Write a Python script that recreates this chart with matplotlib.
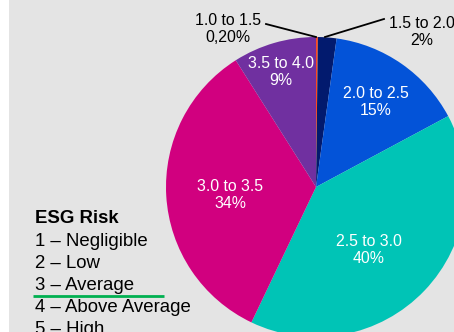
import matplotlib
matplotlib.use("Agg")
import matplotlib.pyplot as plt
from matplotlib.patches import Rectangle

plt.rcParams['font.family'] = ['Liberation Sans', 'DejaVu Sans']

# ---- data ----
categories = ["1.0 to 1.5", "1.5 to 2.0", "2.0 to 2.5", "2.5 to 3.0", "3.0 to 3.5", "3.5 to 4.0"]
values = [0.2, 2, 15, 40, 34, 9]
pct_labels = ["0,20%", "2%", "15%", "40%", "34%", "9%"]
colors = ["#ff4a1c", "#021a6e", "#0353d8", "#00c4b6", "#d1007f", "#7030a0"]
legend_title = "ESG Risk"
legend_items = ["1 \u2013 Negligible", "2 \u2013 Low", "3 \u2013 Average",
                "4 \u2013 Above Average", "5 \u2013 High"]

W, H = 454, 332
fig = plt.figure(figsize=(W / 100, H / 100), dpi=100)
fig.patch.set_facecolor("white")
ax = fig.add_axes([0, 0, 1, 1])
ax.set_xlim(0, W)
ax.set_ylim(0, H)
ax.axis("off")

def Y(y):
    return H - y

# background panel (white strip on the left)
ax.add_patch(Rectangle((9, 0), W - 9, H, facecolor="#e4e4e4", edgecolor="none", zorder=0))

cx, cy, r = 316, Y(187), 150
wedges, _ = ax.pie(values, colors=colors, startangle=90, counterclock=False,
                   center=(cx, cy), radius=r, frame=True,
                   wedgeprops=dict(linewidth=0))
for w in wedges:
    w.set_zorder(2)
ax.set_xlim(0, W)
ax.set_ylim(0, H)
ax.set_aspect("auto")
ax.axis("off")

fs = 11.4
# inside labels (white)
inside = {2: (376, 102), 3: (369, 250), 4: (230, 195), 5: (281, 72)}
for i, (x, y) in inside.items():
    ax.text(x, Y(y), f"{categories[i]}\n{pct_labels[i]}", color="white",
            fontsize=fs, ha="center", va="center", linespacing=1.2, zorder=5)

# outside labels (black) with leader lines
ax.text(228, Y(29), f"{categories[0]}\n{pct_labels[0]}", color="black",
        fontsize=fs, ha="center", va="center", linespacing=1.2, zorder=5)
ax.plot([266, 316], [Y(24), Y(37)], color="black", lw=1.3, zorder=4)
ax.text(422, Y(32), f"{categories[1]}\n{pct_labels[1]}", color="black",
        fontsize=fs, ha="center", va="center", linespacing=1.2, zorder=5)
ax.plot([384, 325], [Y(19), Y(37)], color="black", lw=1.3, zorder=4)

# legend text
ax.text(35, Y(223), legend_title, fontsize=13.4, fontweight="bold",
        ha="left", va="baseline", zorder=5)
for k, item in enumerate(legend_items):
    ax.text(35, Y(246 + 22 * k), item, fontsize=13.4, ha="left",
            va="baseline", zorder=5)
ax.plot([33, 164], [Y(296), Y(296)], color="#00b050", lw=2, zorder=5,
        solid_capstyle="butt")

fig.savefig("out.png", dpi=100)
